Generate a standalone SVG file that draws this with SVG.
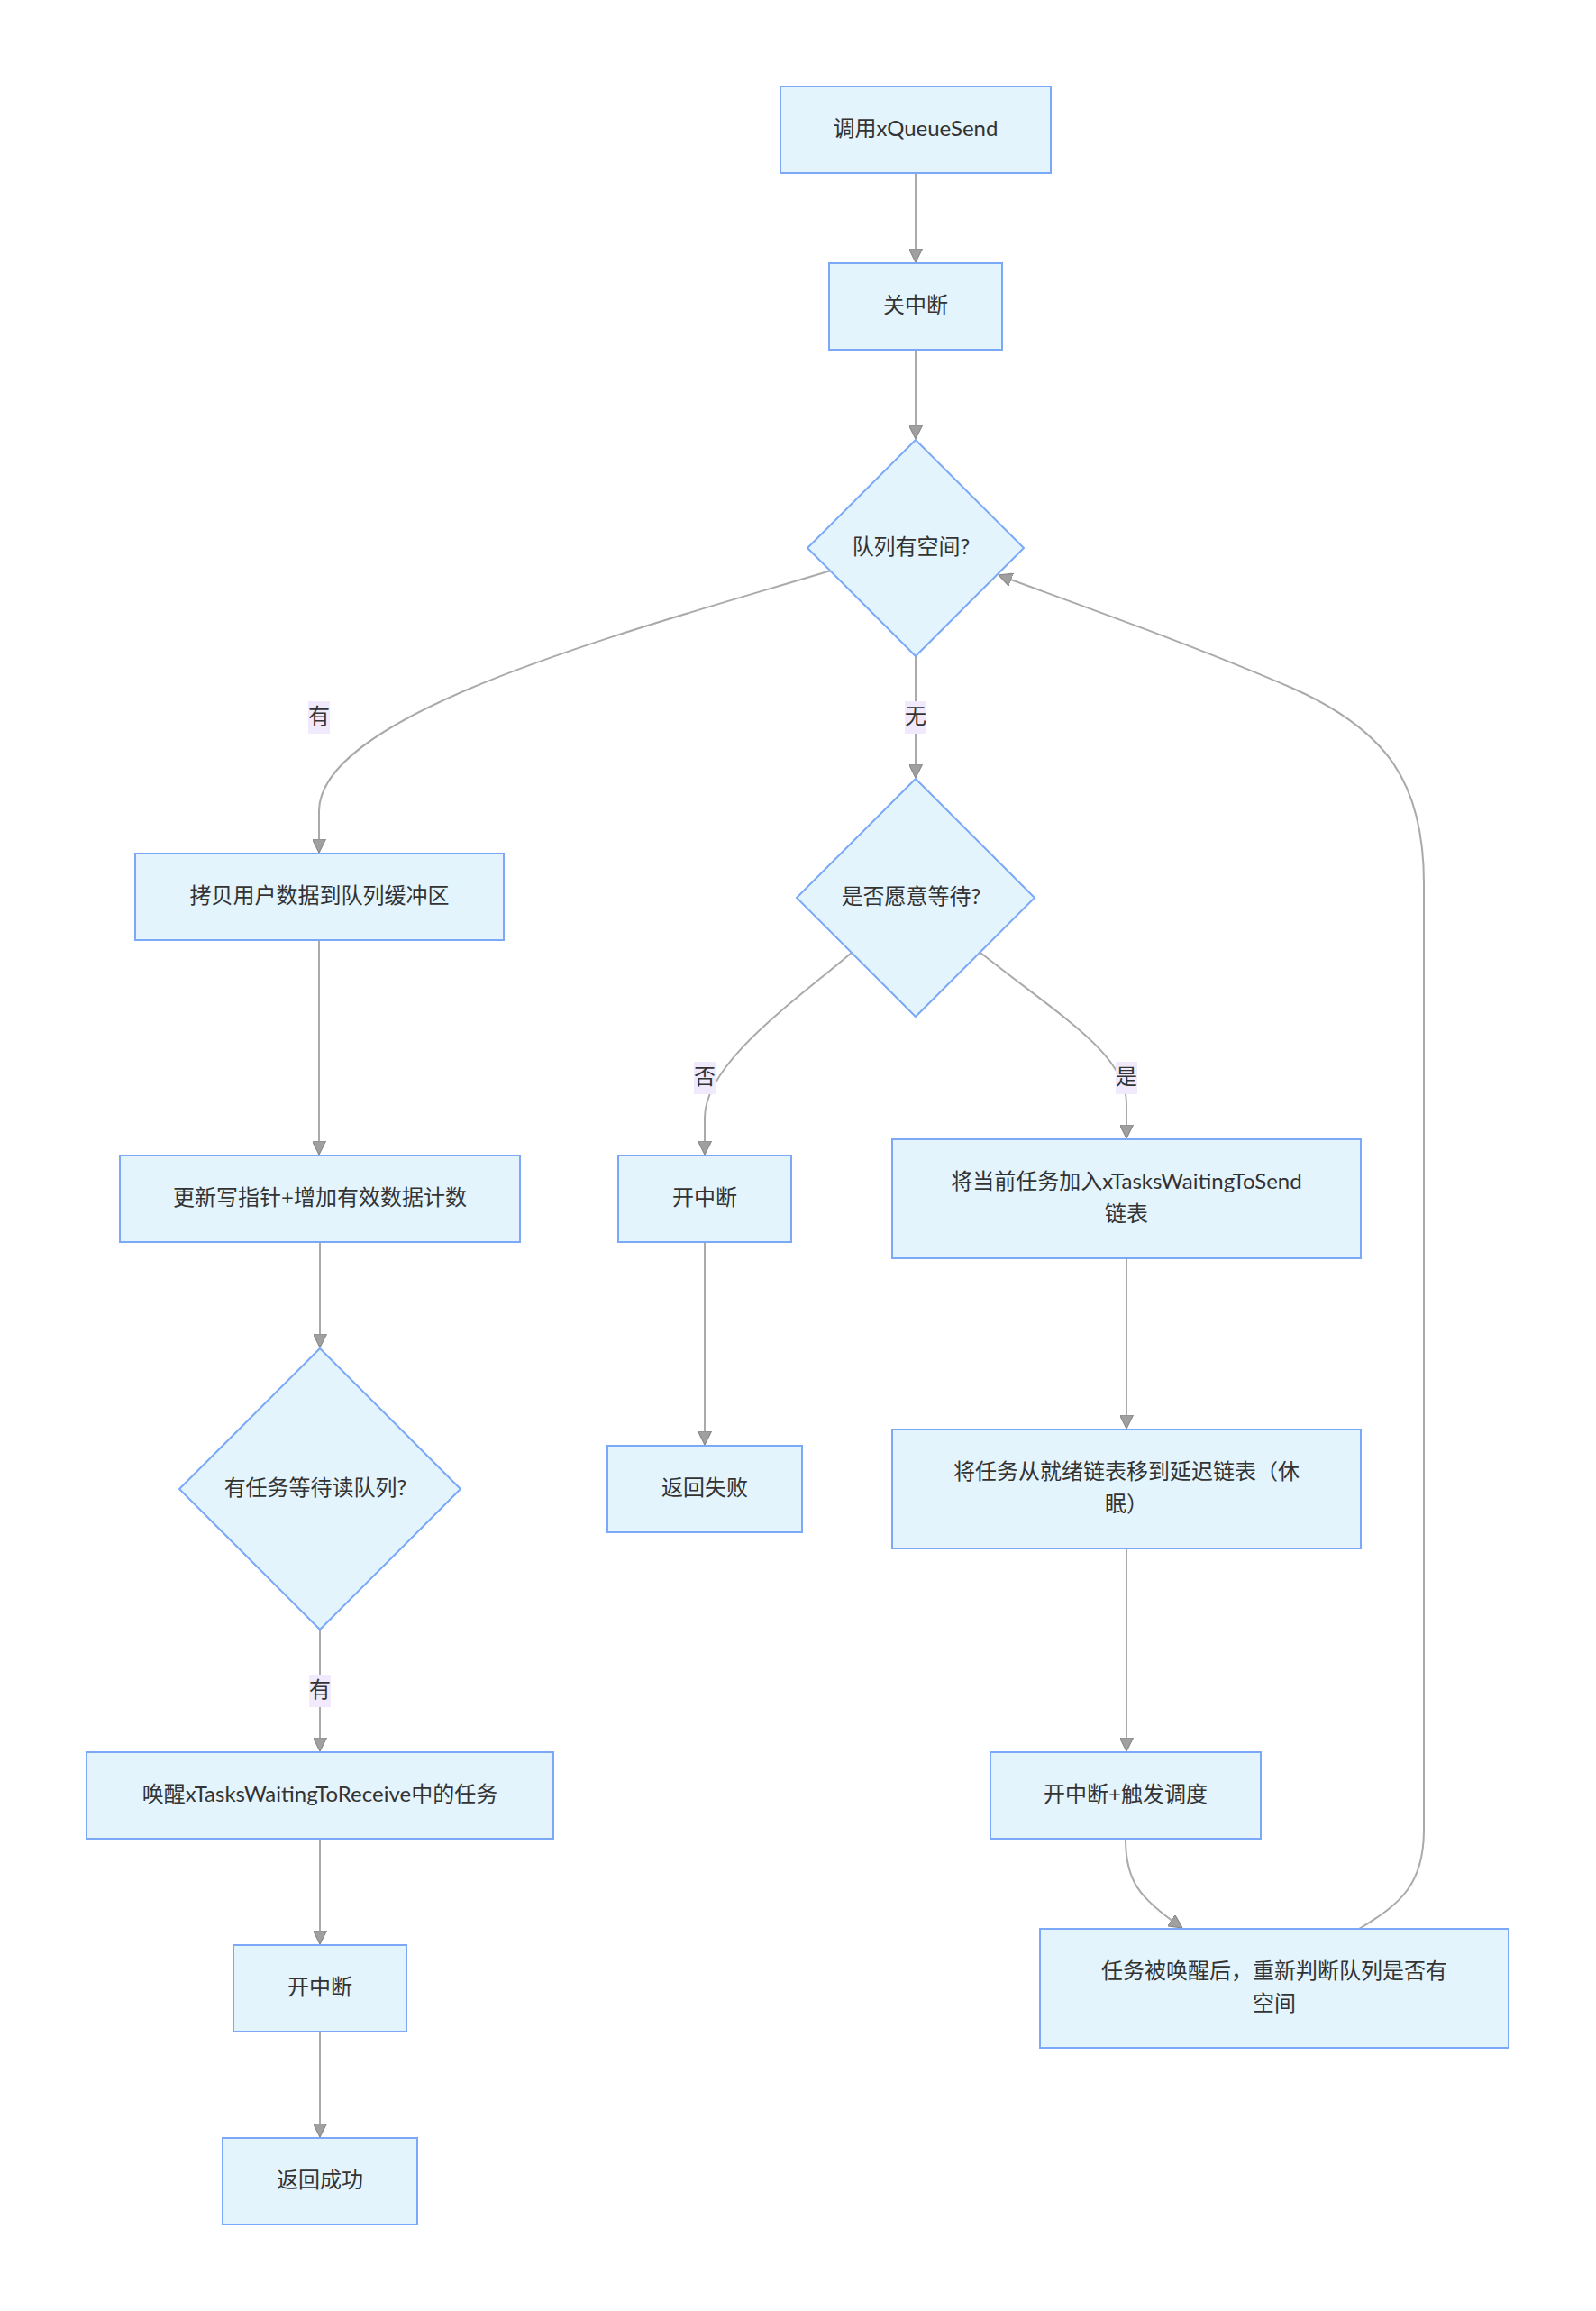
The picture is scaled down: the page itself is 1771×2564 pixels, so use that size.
<svg xmlns="http://www.w3.org/2000/svg" width="1771" height="2564" viewBox="0 0 1771 2564">
<style>
.node rect,.node polygon{fill:#e3f4fd;stroke:#7ba9f7;stroke-width:2}
.node text,.lbl text{font-family:Lato,"Noto Sans CJK SC",sans-serif;font-size:24px;fill:#333;text-anchor:middle;dominant-baseline:central}
.edge{fill:none;stroke:#aaa;stroke-width:2;marker-end:url(#arr)}
.lbl rect{fill:#f1eafc}
</style>
<defs>
<marker id="arr" viewBox="0 0 10 10" refX="10" refY="5" markerWidth="15" markerHeight="15" markerUnits="userSpaceOnUse" orient="auto">
<path d="M0,0 L10,5 L0,10 z" fill="#a0a0a0" stroke="#8a8a8a" stroke-width="0.8"/>
</marker>
</defs>
<rect width="1771" height="2564" fill="#fff"/>
<g id="connectors">
<path class="edge" d="M1016,192 L1016,291"/>
<path class="edge" d="M1016,388 L1016,487"/>
<path class="edge" d="M922,633 C700,700 354,790 354,900 L354,946"/>
<path class="edge" d="M1016,728 L1016,863"/>
<path class="edge" d="M354,1044 L354,1281"/>
<path class="edge" d="M945,1057 C880,1112 782,1180 782,1240 L782,1281"/>
<path class="edge" d="M1088,1057 C1180,1130 1250,1170 1250,1225 L1250,1263"/>
<path class="edge" d="M355,1378 L355,1495"/>
<path class="edge" d="M782,1378 L782,1603"/>
<path class="edge" d="M1250,1396 L1250,1585"/>
<path class="edge" d="M355,1808 L355,1943"/>
<path class="edge" d="M1250,1718 L1250,1943"/>
<path class="edge" d="M355,2040 L355,2157"/>
<path class="edge" d="M355,2254 L355,2371"/>
<path class="edge" d="M1249,2040 C1249,2085 1262,2105 1312,2139"/>
<path class="edge" d="M1508,2140 C1555,2112 1580,2090 1580,2030 L1580,980 C1580,870 1540,810 1433,763 C1330,718 1200,672 1108,638"/>
<g class="lbl"><rect x="342" y="778" width="24" height="36"/><text x="354" y="793">有</text></g>
<g class="lbl"><rect x="1004" y="778" width="24" height="36"/><text x="1016" y="793">无</text></g>
<g class="lbl"><rect x="770" y="1178" width="24" height="36"/><text x="782" y="1193">否</text></g>
<g class="lbl"><rect x="1238" y="1178" width="24" height="36"/><text x="1250" y="1193">是</text></g>
<g class="lbl"><rect x="343" y="1858" width="24" height="36"/><text x="355" y="1873">有</text></g>
</g>
<g id="n1" class="node"><rect x="866" y="96" width="300" height="96"/><text x="1016" y="141">调用xQueueSend</text></g>
<g id="n2" class="node"><rect x="920" y="292" width="192" height="96"/><text x="1016" y="337">关中断</text></g>
<g id="n3" class="node"><polygon points="1016,488 1136,608 1016,728 896,608"/><text x="1011" y="605">队列有空间?</text></g>
<g id="n4" class="node"><rect x="150" y="947" width="409" height="96"/><text x="354.5" y="992">拷贝用户数据到队列缓冲区</text></g>
<g id="n5" class="node"><polygon points="1016,864 1148,996 1016,1128 884,996"/><text x="1011" y="993">是否愿意等待?</text></g>
<g id="n6" class="node"><rect x="133" y="1282" width="444" height="96"/><text x="355" y="1327">更新写指针+增加有效数据计数</text></g>
<g id="n7" class="node"><rect x="686" y="1282" width="192" height="96"/><text x="782" y="1327">开中断</text></g>
<g id="n8" class="node"><rect x="990" y="1264" width="520" height="132"/><text x="1250" y="1309">将当前任务加入xTasksWaitingToSend</text><text x="1250" y="1345">链表</text></g>
<g id="n9" class="node"><polygon points="355,1496 511,1652 355,1808 199,1652"/><text x="350" y="1649">有任务等待读队列?</text></g>
<g id="n10" class="node"><rect x="674" y="1604" width="216" height="96"/><text x="782" y="1649">返回失败</text></g>
<g id="n11" class="node"><rect x="990" y="1586" width="520" height="132"/><text x="1250" y="1631">将任务从就绪链表移到延迟链表（休</text><text x="1250" y="1667">眠）</text></g>
<g id="n12" class="node"><rect x="96" y="1944" width="518" height="96"/><text x="355" y="1989">唤醒xTasksWaitingToReceive中的任务</text></g>
<g id="n13" class="node"><rect x="1099" y="1944" width="300" height="96"/><text x="1249" y="1989">开中断+触发调度</text></g>
<g id="n14" class="node"><rect x="259" y="2158" width="192" height="96"/><text x="355" y="2203">开中断</text></g>
<g id="n15" class="node"><rect x="247" y="2372" width="216" height="96"/><text x="355" y="2417">返回成功</text></g>
<g id="n16" class="node"><rect x="1154" y="2140" width="520" height="132"/><text x="1414" y="2185">任务被唤醒后，重新判断队列是否有</text><text x="1414" y="2221">空间</text></g>
</svg>
